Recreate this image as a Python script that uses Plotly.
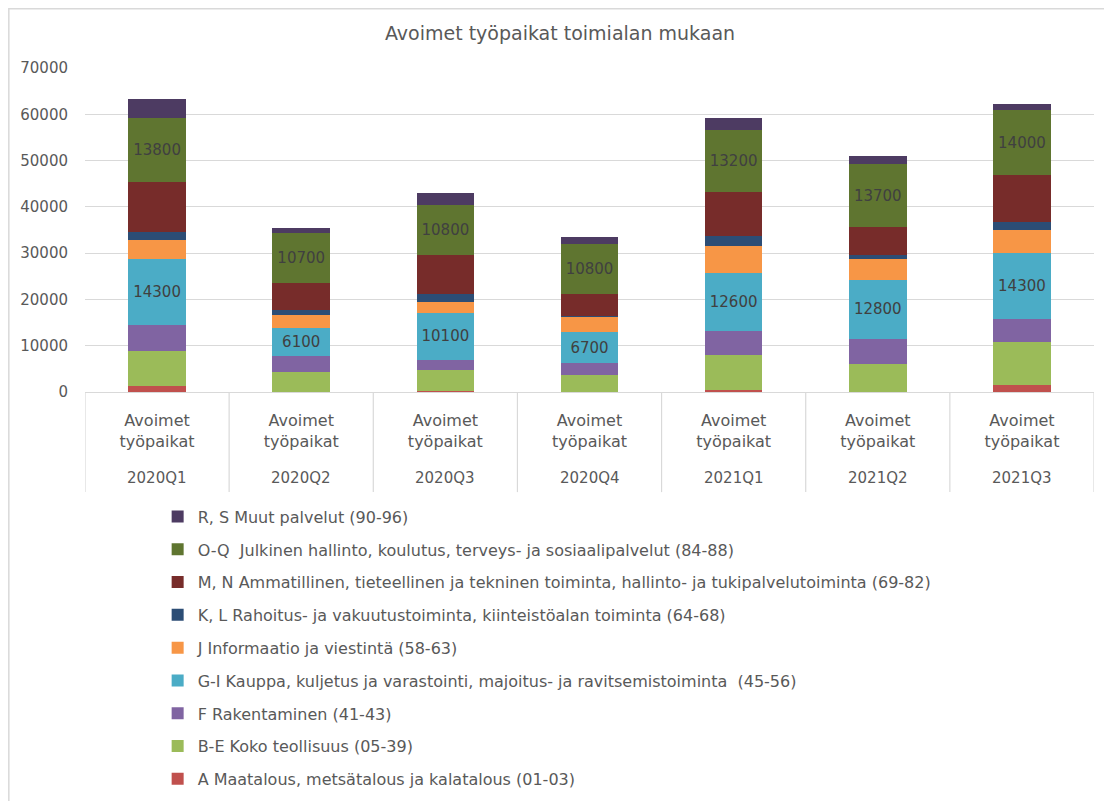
import plotly.graph_objects as go

quarters = ["2020Q1", "2020Q2", "2020Q3", "2020Q4", "2021Q1", "2021Q2", "2021Q3"]
category_label = "Avoimet<br>työpaikat"

series_names = [
    "A Maatalous, metsätalous ja kalatalous (01-03)",
    "B-E Koko teollisuus (05-39)",
    "F Rakentaminen (41-43)",
    "G-I Kauppa, kuljetus ja varastointi, majoitus- ja ravitsemistoiminta  (45-56)",
    "J Informaatio ja viestintä (58-63)",
    "K, L Rahoitus- ja vakuutustoiminta, kiinteistöalan toiminta (64-68)",
    "M, N Ammatillinen, tieteellinen ja tekninen toiminta, hallinto- ja tukipalvelutoiminta (69-82)",
    "O-Q  Julkinen hallinto, koulutus, terveys- ja sosiaalipalvelut (84-88)",
    "R, S Muut palvelut (90-96)",
]

A_vals = [1400, 100, 200, 100, 500, 100, 1500]
BE_vals = [7500, 4300, 4500, 3600, 7400, 5900, 9400]
F_vals = [5600, 3400, 2300, 2500, 5300, 5500, 4800]
GI_vals = [14300, 6100, 10100, 6700, 12600, 12800, 14300]
J_vals = [4100, 2700, 2300, 3400, 5700, 4500, 4900]
KL_vals = [1600, 1200, 1800, 200, 2300, 700, 1900]
MN_vals = [10800, 5800, 8300, 4600, 9500, 6100, 10100]
OQ_vals = [13800, 10700, 10800, 10800, 13200, 13700, 14000]
RS_vals = [4300, 1100, 2700, 1600, 2800, 1700, 1400]

series_values = [A_vals, BE_vals, F_vals, GI_vals, J_vals, KL_vals, MN_vals, OQ_vals, RS_vals]
colors = ["#C0504D", "#9BBB59", "#8064A2", "#4BACC6", "#F79646",
          "#2C4D75", "#772C2A", "#5F7530", "#4D3B62"]
labelled = [False, False, False, True, False, False, False, True, False]

FONT = "DejaVu Sans, Liberation Sans, sans-serif"
GRAY = "#595959"
GRID = "#d9d9d9"

fig = go.Figure()
n_series = len(series_names)
for i, (name, vals, col, lab) in enumerate(zip(series_names, series_values, colors, labelled)):
    fig.add_trace(go.Bar(
        x=quarters, y=vals, name=name, legendgroup=f"g{i}",
        legendrank=n_series - i,
        marker=dict(color=col, line=dict(width=0)),
        text=[str(v) for v in vals] if lab else None,
        textposition="inside" if lab else "none",
        insidetextanchor="middle",
        textangle=0,
        constraintext="none",
        textfont=dict(family=FONT, size=15, color="#404040"),
        hoverinfo="name+y",
    ))

n = len(quarters)
# category dividers below the axis
for k in range(n + 1):
    fig.add_shape(type="line", xref="x", yref="paper",
                  x0=k - 0.5, x1=k - 0.5, y0=0, y1=-0.309,
                  line=dict(color=GRID, width=1.2))
# second-level labels (quarters)
for q in quarters:
    fig.add_annotation(x=q, xref="x", yref="paper", y=-0.265, yanchor="middle",
                       text=q, showarrow=False,
                       font=dict(family=FONT, size=15, color=GRAY))
# chart border
fig.add_shape(type="rect", xref="paper", yref="paper",
              x0=-0.0755, x1=1.0159, y0=-1.30, y1=1.1827,
              line=dict(color=GRID, width=1.5), layer="above")

fig.update_layout(
    width=1104, height=793,
    margin=dict(l=77, r=18, t=60, b=409, autoexpand=False),
    paper_bgcolor="white", plot_bgcolor="white",
    barmode="stack", bargap=0.6,
    title=dict(text="Avoimet työpaikat toimialan mukaan", x=0.5, xanchor="center",
               y=1 - 25 / 793, yanchor="middle",
               font=dict(family=FONT, size=19, color=GRAY)),
    font=dict(family=FONT, color=GRAY),
    xaxis=dict(
        tickmode="array", tickvals=quarters,
        ticktext=[category_label] * n,
        tickfont=dict(family=FONT, size=16, color=GRAY),
        showline=True, linecolor=GRID, linewidth=1.2,
        showgrid=False, ticks="", ticklabelstandoff=14,
        range=[-0.5, n - 0.5],
    ),
    yaxis=dict(
        range=[0, 70000], dtick=10000, tickformat="d",
        showgrid=True, gridcolor=GRID, gridwidth=1.2,
        zeroline=False, showline=False, ticks="",
        tickfont=dict(family=FONT, size=15, color=GRAY),
        ticklabelstandoff=16,
    ),
    legend=dict(
        traceorder="grouped", orientation="v",
        x=0.072, xanchor="left", y=-0.332, yanchor="top",
        font=dict(family=FONT, size=16, color=GRAY),
        tracegroupgap=9, bgcolor="rgba(0,0,0,0)",
    ),
    showlegend=True,
)

fig.write_html("out.html")
